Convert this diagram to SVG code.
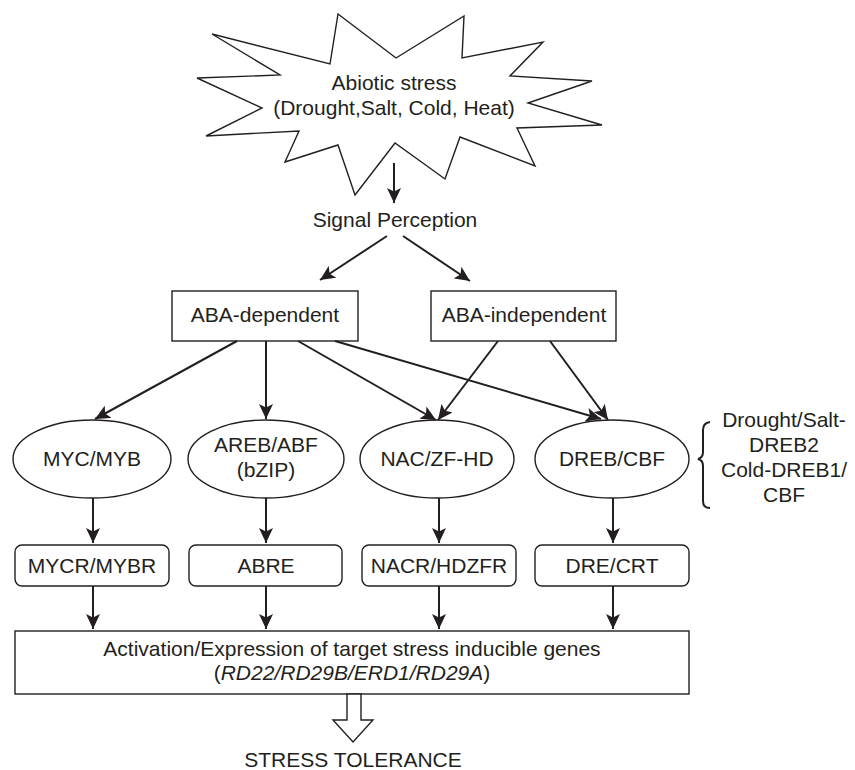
<svg xmlns="http://www.w3.org/2000/svg" width="855" height="770" viewBox="0 0 855 770">
<style>
text{font-family:"Liberation Sans",Arial,sans-serif;font-size:21px;fill:#231f20;text-anchor:middle}
.shape{fill:#fff;stroke:#231f20;stroke-width:1.4}
.conn{fill:none;stroke:#231f20;stroke-width:2}
</style>
<defs>
<marker id="ah" markerUnits="userSpaceOnUse" markerWidth="16" markerHeight="14" refX="15" refY="7" orient="auto" viewBox="0 0 16 14">
<path d="M0,0 L15,7 L0,14 L3.5,7 z" fill="#231f20"/>
</marker>
</defs>
<rect width="855" height="770" fill="#fff"/>
<g id="stress">
<polygon class="shape" points="338,14 396,58 464,16 462,58 543,42 510,76 592,81 528,103 602,125 517,128 535,166 460,137 445,179 395,143 355,195 338,145 285,162 299,131 206,136 262,108 197,78 280,75 212,34 330,64"/>
<text x="394" y="90">Abiotic stress</text>
<text x="394" y="115">(Drought,Salt, Cold, Heat)</text>
</g>
<g id="signal"><text x="395" y="227">Signal Perception</text></g>
<g id="aba-dep"><rect class="shape" x="172" y="291" width="186" height="50"/><text x="265" y="322">ABA-dependent</text></g>
<g id="aba-indep"><rect class="shape" x="431" y="291" width="185" height="50"/><text x="524" y="322">ABA-independent</text></g>
<g id="myc"><ellipse class="shape" cx="92" cy="459" rx="79" ry="39"/><text x="92" y="466">MYC/MYB</text></g>
<g id="areb"><ellipse class="shape" cx="266" cy="459" rx="78" ry="39"/><text x="266" y="452">AREB/ABF</text><text x="266" y="477">(bZIP)</text></g>
<g id="nac"><ellipse class="shape" cx="437" cy="459" rx="77" ry="39"/><text x="437" y="466">NAC/ZF-HD</text></g>
<g id="dreb"><ellipse class="shape" cx="612" cy="459" rx="77" ry="39"/><text x="612" y="466">DREB/CBF</text></g>
<g id="note">
<path class="conn" stroke-width="1.3" d="M710,422 Q703,423 703,430 L703,452 Q703,458 698,459 Q703,460 703,466 L703,501 Q703,508 710,508"/>
<text x="784" y="427">Drought/Salt-</text>
<text x="784" y="452">DREB2</text>
<text x="784" y="477">Cold-DREB1/</text>
<text x="784" y="502">CBF</text>
</g>
<g id="mycr"><rect class="shape" x="15" y="545" width="154" height="41" rx="7"/><text x="92" y="573">MYCR/MYBR</text></g>
<g id="abre"><rect class="shape" x="189" y="545" width="153" height="41" rx="7"/><text x="266" y="573">ABRE</text></g>
<g id="nacr"><rect class="shape" x="362" y="545" width="154" height="41" rx="7"/><text x="439" y="573">NACR/HDZFR</text></g>
<g id="dre"><rect class="shape" x="535" y="545" width="154" height="41" rx="7"/><text x="612" y="573">DRE/CRT</text></g>
<g id="genes">
<rect class="shape" x="15" y="631" width="674" height="63"/>
<text x="352" y="656">Activation/Expression of target stress inducible genes</text>
<text x="352" y="680">(<tspan font-style="italic">RD22/RD29B/ERD1/RD29A</tspan>)</text>
</g>
<g id="tolerance">
<polygon class="shape" points="347,694 361,694 361,720 373,720 353,742 333,720 347,720"/>
<text x="353" y="767">STRESS TOLERANCE</text>
</g>
<g id="connectors">
<line class="conn" x1="394" y1="163" x2="394" y2="203" marker-end="url(#ah)"/>
<line class="conn" x1="387" y1="236" x2="320" y2="280" marker-end="url(#ah)"/>
<line class="conn" x1="403" y1="236" x2="470" y2="281" marker-end="url(#ah)"/>
<line class="conn" x1="237" y1="341" x2="95" y2="419" marker-end="url(#ah)"/>
<line class="conn" x1="266" y1="341" x2="266" y2="419" marker-end="url(#ah)"/>
<line class="conn" x1="298" y1="341" x2="436" y2="420" marker-end="url(#ah)"/>
<line class="conn" x1="335" y1="341" x2="601" y2="419" marker-end="url(#ah)"/>
<line class="conn" x1="498" y1="341" x2="438" y2="420" marker-end="url(#ah)"/>
<line class="conn" x1="550" y1="341" x2="608" y2="420" marker-end="url(#ah)"/>
<line class="conn" x1="93" y1="498" x2="93" y2="543" marker-end="url(#ah)"/>
<line class="conn" x1="266" y1="498" x2="266" y2="543" marker-end="url(#ah)"/>
<line class="conn" x1="439" y1="498" x2="439" y2="543" marker-end="url(#ah)"/>
<line class="conn" x1="613" y1="498" x2="613" y2="543" marker-end="url(#ah)"/>
<line class="conn" x1="93" y1="586" x2="93" y2="629" marker-end="url(#ah)"/>
<line class="conn" x1="266" y1="586" x2="266" y2="629" marker-end="url(#ah)"/>
<line class="conn" x1="439" y1="586" x2="439" y2="629" marker-end="url(#ah)"/>
<line class="conn" x1="613" y1="586" x2="613" y2="629" marker-end="url(#ah)"/>
</g>
</svg>
